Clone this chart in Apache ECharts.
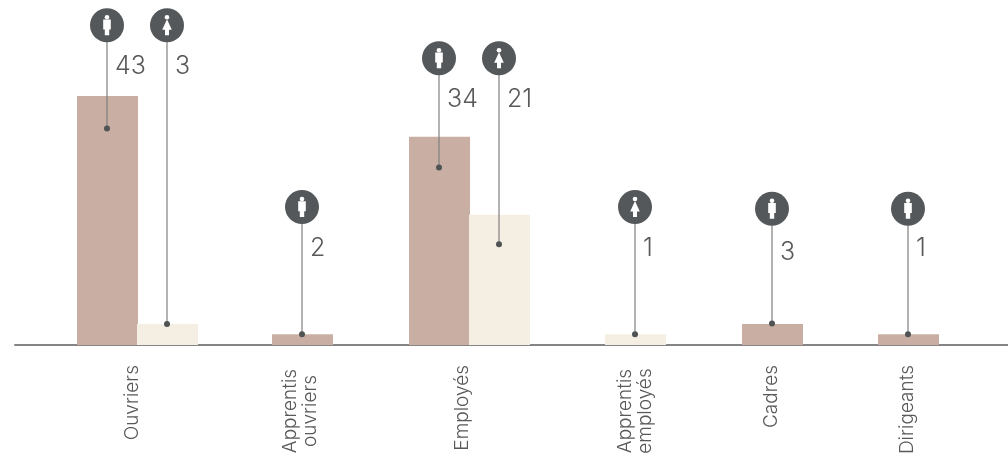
<!DOCTYPE html>
<html><head><meta charset="utf-8">
<style>html,body{margin:0;padding:0;background:#fff}#c{width:1008px;height:453px}</style>
<script src="https://cdn.jsdelivr.net/npm/echarts@6/dist/echarts.min.js"></script>
</head><body><div id="c"></div>
<script>
// Data
const categories = ['Ouvriers', 'Apprentis\nouvriers', 'Employés', 'Apprentis\nemployés', 'Cadres', 'Dirigeants'];
const markCategory = [0, 0, 1, 2, 2, 3, 4, 5];
const markGender = ['h', 'f', 'h', 'h', 'f', 'f', 'h', 'h'];
const shownValues = [43, 3, 2, 34, 21, 1, 3, 1];
const barHeights = [41.5, 3.5, 1.8, 34.7, 21.7, 1.8, 3.5, 1.8];
const pinLevels = [53.3, 53.3, 23, 47.8, 47.8, 23, 22.7, 22.7];
const dotLevels = [36.1, 3.5, 1.8, 29.6, 16.8, 1.8, 3.6, 1.8];
const labelLevels = [46.5, 46.5, 16.1, 41.0, 41.0, 16.1, 15.5, 16.1];

// Layout: horizontal axis is in page pixels because the groups are unevenly spaced
const markX = [107.5, 167.5, 302.5, 439.5, 499.5, 635.5, 772.5, 908.5];
const labelX = [132, 300, 462, 635, 771, 907];
const singleLineX = labelX.filter((_, i) => !categories[i].includes('\n'));
const twoLineX = labelX.filter((_, i) => categories[i].includes('\n'));

const FONT = 'Inter';
const TXT = '#58595b', DARK = '#54585a';

const rows = markX.map((x, i) => [x, barHeights[i], pinLevels[i], dotLevels[i], labelLevels[i], shownValues[i], markGender[i] === 'h' ? 0 : 1, markCategory[i]]);

function renderPin(params, api) {
  const x = api.value(0);
  const head = api.coord([x, api.value(2)]);
  const dot = api.coord([x, api.value(3)]);
  const lab = api.coord([x, api.value(4)]);
  const female = api.value(6) === 1;
  const cx = head[0] - 0.5, cy = head[1];
  const body = female
    ? { type: 'polygon', shape: { points: [[cx, cy - 6], [cx + 4.8, cy + 4.5], [cx + 2, cy + 4.5], [cx + 2, cy + 10], [cx - 2, cy + 10], [cx - 2, cy + 4.5], [cx - 4.8, cy + 4.5]] }, style: { fill: '#fff' } }
    : { type: 'polygon', shape: { points: [[cx - 3.8, cy - 5.7], [cx + 3.8, cy - 5.7], [cx + 3.8, cy + 4.3], [cx + 2.2, cy + 4.3], [cx + 2.2, cy + 10], [cx - 2.2, cy + 10], [cx - 2.2, cy + 4.3], [cx - 3.8, cy + 4.3]] }, style: { fill: '#fff' } };
  return {
    type: 'group',
    children: [
      { type: 'line', shape: { x1: cx, y1: cy, x2: cx, y2: dot[1] }, style: { stroke: '#808080', lineWidth: 1.2 } },
      { type: 'circle', shape: { cx: cx, cy: dot[1], r: 3 }, style: { fill: '#4f5353' } },
      { type: 'circle', shape: { cx: cx, cy: cy, r: 17 }, style: { fill: DARK } },
      { type: 'circle', shape: { cx: cx, cy: cy - 8, r: 2.3 }, style: { fill: '#fff' } },
      body,
      { type: 'text', style: { x: cx + 8, y: lab[1], text: String(api.value(5)), font: '300 25px ' + FONT, fill: TXT, textAlign: 'left', textVerticalAlign: 'middle' } }
    ]
  };
}

const labelFont = { fontFamily: FONT, fontSize: 19, fontWeight: 300, color: TXT, lineHeight: 20 };
const chart = echarts.init(document.getElementById('c'), null, { renderer: 'canvas' });
chart.setOption({
  animation: false,
  grid: { left: 15, right: 0, top: 0, bottom: 108, outerBoundsMode: 'none', containLabel: false },
  xAxis: [{
    type: 'value', min: 15, max: 1008, splitLine: { show: false },
    axisLine: { show: true, onZero: true, lineStyle: { color: '#858585', width: 2 } },
    axisTick: { show: false },
    axisLabel: Object.assign({
      customValues: singleLineX,
      formatter: v => categories[labelX.indexOf(v)] || '',
      rotate: 90, margin: 20, hideOverlap: false
    }, labelFont)
  }, {
    type: 'value', min: 15, max: 1008, position: 'bottom', splitLine: { show: false },
    axisLine: { show: false }, axisTick: { show: false },
    axisLabel: Object.assign({
      customValues: twoLineX,
      formatter: v => categories[labelX.indexOf(v)] || '',
      rotate: 90, margin: 66, align: 'center', hideOverlap: false
    }, labelFont)
  }],
  yAxis: { type: 'value', min: 0, max: 57.5, show: false },
  series: [
    { type: 'bar', name: 'Hommes', barWidth: 61, barGap: '-100%', itemStyle: { color: '#c9afa3' },
      data: rows.filter(r => r[6] === 0).map(r => [r[0], r[1]]) },
    { type: 'bar', name: 'Femmes', barWidth: 61, barGap: '-100%', itemStyle: { color: '#f5eee3' },
      data: rows.filter(r => r[6] === 1).map(r => [r[0], r[1]]) },
    { type: 'custom', name: 'Repères', renderItem: renderPin, clip: false, z: 5,
      encode: { x: 0, y: 2 }, data: rows }
  ]
});
</script></body></html>
